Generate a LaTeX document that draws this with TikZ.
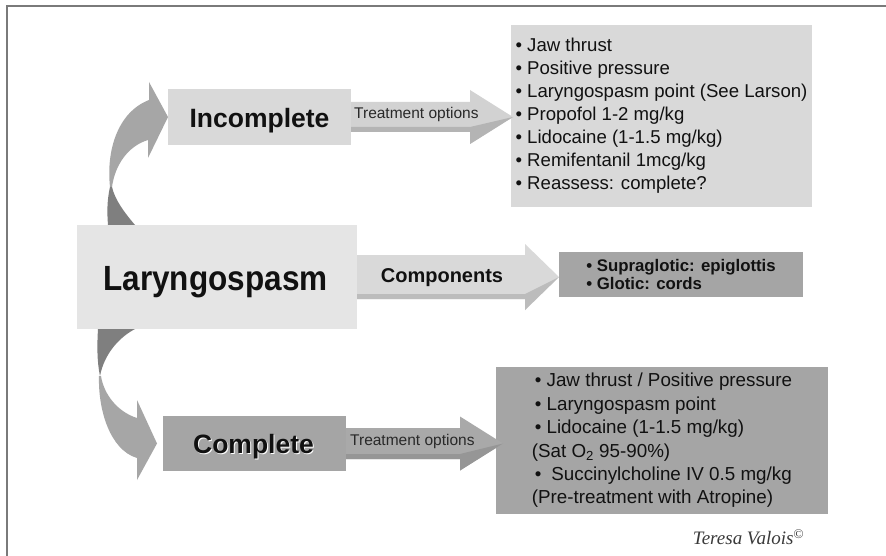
\documentclass[tikz,border=0pt]{standalone}
\usepackage{fontspec}
\setmainfont{Liberation Sans}
\newfontfamily\sigfont{Liberation Serif}
\usetikzlibrary{calc}

\definecolor{framegray}{HTML}{7A7A7A}
\definecolor{boxlight}{HTML}{D9D9D9}
\definecolor{boxpale}{HTML}{E5E5E5}
\definecolor{boxdark}{HTML}{A5A5A5}
\definecolor{sweeplight}{HTML}{A6A6A6}
\definecolor{sweepdark}{HTML}{7F7F7F}
\definecolor{arrowpale}{HTML}{D2D2D2}
\definecolor{arrowpaleshade}{HTML}{B4B4B4}
\definecolor{arrowmid}{HTML}{D9D9D9}
\definecolor{arrowmidshade}{HTML}{BCBCBC}
\definecolor{arrowdark}{HTML}{A9A9A9}
\definecolor{arrowdarkshade}{HTML}{969696}
\definecolor{inktext}{HTML}{111111}
\definecolor{sigink}{HTML}{3A3A3A}

\tikzset{
  panel/.style={draw=none, inner sep=0pt, outer sep=0pt, anchor=north west,
    align=left, text=inktext},
  lightpanel/.style={panel, fill=boxlight},
  palepanel/.style={panel, fill=boxpale},
  darkpanel/.style={panel, fill=boxdark},
  heading/.style={inner sep=0pt, anchor=base, text=inktext,
    font=\bfseries\fontsize{26.5}{30}\selectfont},
  arrowlabel/.style={inner sep=0pt, anchor=west, text=inktext!90,
    font=\fontsize{15.5}{18}\selectfont},
  listtext/.style={font=\fontsize{18.6}{23}\selectfont},
  frameline/.style={draw=framegray, line width=2pt},
}

% Straight block arrow: #1 start, #2 tip, #3 half shaft, #4 half head,
% #5 head length, #6 fill, #7 shading of the lower edge
\newcommand\blockarrow[7]{%
  \fill[#6] let \p1=(#1), \p2=(#2) in
    (\x1,\y1+#3pt) -- (\x2-#5pt,\y1+#3pt) -- (\x2-#5pt,\y1+#4pt) -- (\x2,\y1)
    -- (\x2-#5pt,\y1-#4pt) -- (\x2-#5pt,\y1-#3pt) -- (\x1,\y1-#3pt) -- cycle;
  \fill[#7] let \p1=(#1), \p2=(#2) in
    (\x1,\y1-#3pt+5pt) -- (\x2-#5pt,\y1-#3pt+5pt) -- (\x2,\y1)
    -- (\x2-#5pt,\y1-#4pt) -- (\x2-#5pt,\y1-#3pt) -- (\x1,\y1-#3pt) -- cycle;
}

\begin{document}
\begin{tikzpicture}[x=1pt,y=-1pt]
\useasboundingbox (0,0) rectangle (886,556);
\fill[white] (0,0) rectangle (886,556);
\draw[frameline] (6.5,556) -- (6.5,6.5) -- (886,6.5);

% boxes
\node[lightpanel, minimum width=183pt, minimum height=56pt] (inc) at (168,89) {};
\node[palepanel, minimum width=280pt, minimum height=104pt] (lar) at (77,225) {};
\node[darkpanel, minimum width=183pt, minimum height=55pt] (comp) at (163,416) {};

\node[lightpanel, minimum width=301pt, minimum height=182pt, listtext] (tlist) at (511,25)
  {• Jaw thrust\\
   • Positive pressure\\
   • Laryngospasm point (See Larson)\\
   • Propofol 1-2 mg/kg\\
   • Lidocaine (1-1.5 mg/kg)\\
   • Remifentanil 1mcg/kg\\
   • Reassess: complete?};

\node[darkpanel, minimum width=244pt, minimum height=45pt,
      font=\bfseries\fontsize{16.8}{18}\selectfont] (clist) at (559,252)
  {• Supraglotic: epiglottis\\
   • Glotic: cords};

\node[darkpanel, minimum width=332pt, minimum height=147pt,
      font=\fontsize{18.8}{23.4}\selectfont] (blist) at (496,367)
  {\hspace{3pt}• Jaw thrust / Positive pressure\\
   \hspace{3pt}• Laryngospasm point\\
   \hspace{3pt}• Lidocaine (1-1.5 mg/kg)\\
   (Sat O\textsubscript{2} 95-90\%)\\
   \hspace{3pt}•\hspace{10pt}Succinylcholine IV 0.5 mg/kg\\
   (Pre-treatment with Atropine)};

% box titles
\node[heading] (inctext) at (259.5,128) {Incomplete};
\node[heading, font=\bfseries\fontsize{35}{40}\selectfont] (lartext) at (215.5,290.5)
  {\scalebox{0.9}[1]{Laryngospasm}};
\node[heading, text=white] (compshadow) at (254.5,454) {Complete};
\node[heading] (comptext) at (253.5,453) {Complete};

% straight block arrows
\coordinate (toptip) at ($(tlist.west |- inc.east)+(2,0)$);
\coordinate (midtip) at (clist.west |- lar.east);
\coordinate (bottip) at ($(blist.west |- comp.east)+(7,0)$);
\blockarrow{inc.east}{toptip}{15}{27}{43}{arrowpale}{arrowpaleshade}
\blockarrow{lar.east}{midtip}{22}{33}{34}{arrowmid}{arrowmidshade}
\blockarrow{comp.east}{bottip}{15.5}{27}{43}{arrowdark}{arrowdarkshade}

\node[arrowlabel] (toplabel) at ($(inc.east)+(3,-3)$) {Treatment options};
\node[arrowlabel] (botlabel) at ($(comp.east)+(4,-2.5)$) {Treatment options};
\node[inner sep=0pt, anchor=base, text=inktext,
      font=\bfseries\fontsize{20}{24}\selectfont] (complabel) at ($(lar.east)+(85,5)$) {Components};

% curved sweep from the centre box up to the upper branch
\fill[sweeplight] (110,187) .. controls (106,150) and (118,112) .. (149,100)
  -- (149,82) -- (inc.west) -- (148,158) -- (148,140)
  .. controls (128,146) and (115,165) .. (112,187) -- cycle;
\fill[sweepdark] (110,187) .. controls (107,200) and (107,213) .. (108,225)
  -- (135,225) .. controls (124,212) and (115,200) .. (112,187) -- cycle;

% curved sweep from the centre box down to the lower branch
\coordinate (lowtip) at ($(comp.west)+(-6,0)$);
\fill[sweepdark] (98,329) -- (135,329) .. controls (118,338) and (104,355) .. (100,376)
  .. controls (97,362) and (97,345) .. (98,329) -- cycle;
\fill[sweeplight] (99,376) .. controls (98,410) and (110,450) .. (137,458)
  -- (137,480) -- (lowtip) -- (137,400) -- (137,418)
  .. controls (118,412) and (104,395) .. (101,376) -- cycle;

% signature
\node[inner sep=0pt, text=sigink, font=\sigfont\itshape\fontsize{19}{22}\selectfont]
  (sig) at (748.5,537) {Teresa Valois\textsuperscript{\textcopyright}};
\end{tikzpicture}
\end{document}
